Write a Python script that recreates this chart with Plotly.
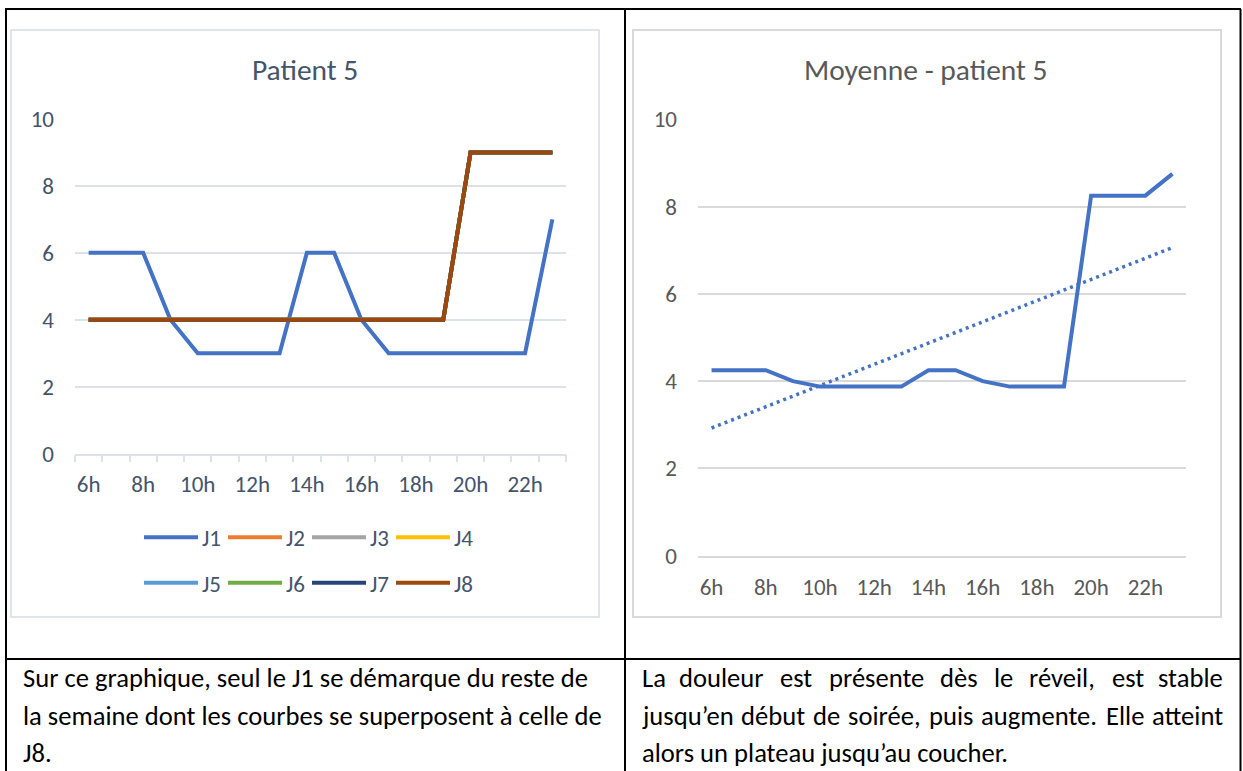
import numpy as np
import plotly.graph_objects as go

# ---------------- data ----------------
CATEGORIES = ["6h", "7h", "8h", "9h", "10h", "11h", "12h", "13h", "14h",
              "15h", "16h", "17h", "18h", "19h", "20h", "21h", "22h", "23h"]
SERIES = ["J1", "J2", "J3", "J4", "J5", "J6", "J7", "J8"]
J1 = [6, 6, 6, 4, 3, 3, 3, 3, 6, 6, 4, 3, 3, 3, 3, 3, 3, 7]
J2 = [4, 4, 4, 4, 4, 4, 4, 4, 4, 4, 4, 4, 4, 4, 9, 9, 9, 9]
J3 = [4, 4, 4, 4, 4, 4, 4, 4, 4, 4, 4, 4, 4, 4, 9, 9, 9, 9]
J4 = [4, 4, 4, 4, 4, 4, 4, 4, 4, 4, 4, 4, 4, 4, 9, 9, 9, 9]
J5 = [4, 4, 4, 4, 4, 4, 4, 4, 4, 4, 4, 4, 4, 4, 9, 9, 9, 9]
J6 = [4, 4, 4, 4, 4, 4, 4, 4, 4, 4, 4, 4, 4, 4, 9, 9, 9, 9]
J7 = [4, 4, 4, 4, 4, 4, 4, 4, 4, 4, 4, 4, 4, 4, 9, 9, 9, 9]
J8 = [4, 4, 4, 4, 4, 4, 4, 4, 4, 4, 4, 4, 4, 4, 9, 9, 9, 9]
MEAN = [4.25, 4.25, 4.25, 4.0, 3.875, 3.875, 3.875, 3.875, 4.25,
        4.25, 4.0, 3.875, 3.875, 3.875, 8.25, 8.25, 8.25, 8.75]
Y_TICKS_LEFT = [0, 2, 4, 6, 8, 10]
Y_TICKS_RIGHT = [0, 2, 4, 6, 8, 10]
TITLE_LEFT = "Patient 5"
TITLE_RIGHT = "Moyenne - patient 5"
TEXT_LEFT = ["Sur ce graphique, seul le J1 se démarque du reste de",
             "la semaine dont les courbes se superposent à celle de",
             "J8."]
TEXT_RIGHT = ["La douleur est présente dès le réveil, est stable",
              "jusqu’en début de soirée, puis augmente. Elle atteint",
              "alors un plateau jusqu’au coucher."]

# ---------------- style ----------------
COLORS = ["#4472C4", "#ED7D31", "#A5A5A5", "#FFC000",
          "#5B9BD5", "#70AD47", "#264478", "#9E480E"]
FONT = "Carlito, Calibri, Lato, sans-serif"
SLATE = "#44546A"
GREY_TXT = "#595959"
GRID_L = "#DDE2E8"
GRID_R = "#D9D9D9"
W, H = 1243, 771
TICK_SIZE = 23
LEGEND_SIZE = 23
BODY_SIZE = 26.6
TITLE_SIZE = 29.5


def fx(x):
    return x / W


def fy(y):
    return 1 - y / H


xi = list(range(len(CATEGORIES)))
day_values = [J1, J2, J3, J4, J5, J6, J7, J8]

fig = go.Figure()
for name, vals, col in zip(SERIES, day_values, COLORS):
    fig.add_trace(go.Scatter(x=xi, y=vals, name=name, mode="lines",
                             line=dict(color=col, width=4),
                             xaxis="x", yaxis="y", showlegend=False))

fig.add_trace(go.Scatter(x=xi, y=MEAN, name="Moyenne", mode="lines",
                         line=dict(color=COLORS[0], width=4),
                         xaxis="x2", yaxis="y2", showlegend=False))
# linear trendline (as Excel computes it) on the mean series
slope, intercept = np.polyfit(np.arange(1, len(MEAN) + 1), MEAN, 1)
trend = [slope * (i + 1) + intercept for i in xi]
fig.add_trace(go.Scatter(x=xi, y=trend, name="Linéaire (Moyenne)", mode="lines",
                         line=dict(color=COLORS[0], width=3.5, dash="3px,4px"),
                         xaxis="x2", yaxis="y2", showlegend=False))

tickvals = xi[::2]
ticktext = CATEGORIES[::2]
xr = [-0.5, len(CATEGORIES) - 0.5]

fig.update_layout(
    width=W, height=H,
    margin=dict(l=0, r=0, t=0, b=0, pad=0, autoexpand=False),
    paper_bgcolor="white", plot_bgcolor="rgba(0,0,0,0)",
    showlegend=False,
    font=dict(family=FONT),
    xaxis=dict(domain=[fx(75), fx(566)], range=xr, anchor="y",
               tickmode="array", tickvals=tickvals, ticktext=ticktext,
               showgrid=False, zeroline=False, showline=True,
               linecolor=GRID_L, linewidth=1.5, ticks="",
               ticklabelstandoff=9, automargin=False,
               minor=dict(tickmode="array",
                          tickvals=[i - 0.5 for i in range(len(CATEGORIES) + 1)],
                          ticks="outside", ticklen=7, tickwidth=1.5,
                          tickcolor=GRID_L, showgrid=False),
               tickfont=dict(family=FONT, size=TICK_SIZE, color=SLATE)),
    yaxis=dict(domain=[fy(453.5), fy(119)], range=[0, 10], anchor="x",
               tickmode="array", tickvals=Y_TICKS_LEFT,
               showgrid=True, gridcolor=GRID_L, gridwidth=1.5,
               zeroline=False, showline=False, ticks="",
               ticklabelstandoff=20, automargin=False,
               tickfont=dict(family=FONT, size=TICK_SIZE, color=SLATE)),
    xaxis2=dict(domain=[fx(698), fx(1186)], range=xr, anchor="y2",
                tickmode="array", tickvals=tickvals, ticktext=ticktext,
                showgrid=False, zeroline=False, showline=True,
                linecolor=GRID_R, linewidth=1.5, ticks="",
                ticklabelstandoff=10, automargin=False,
                tickfont=dict(family=FONT, size=TICK_SIZE, color=GREY_TXT)),
    yaxis2=dict(domain=[fy(555.7), fy(119.3)], range=[0, 10], anchor="x2",
                tickmode="array", tickvals=Y_TICKS_RIGHT,
                showgrid=True, gridcolor=GRID_R, gridwidth=1.5,
                zeroline=False, showline=False, ticks="",
                ticklabelstandoff=20, automargin=False,
                tickfont=dict(family=FONT, size=TICK_SIZE, color=GREY_TXT)),
)

shapes = []
# chart frames
shapes.append(dict(type="rect", xref="paper", yref="paper",
                   x0=fx(11), x1=fx(599), y0=fy(617), y1=fy(30),
                   line=dict(color="#D6DCE5", width=1.5), layer="below"))
shapes.append(dict(type="rect", xref="paper", yref="paper",
                   x0=fx(633), x1=fx(1221), y0=fy(617), y1=fy(30),
                   line=dict(color="#D9D9D9", width=2), layer="below"))
# table borders
black = dict(color="black", width=2)
for (x0, y0, x1, y1) in [(5, 9, 1241, 9), (6, 9, 6, 771), (625, 9, 625, 771),
                         (1240.5, 9, 1240.5, 771), (5, 659, 1241, 659)]:
    shapes.append(dict(type="line", xref="paper", yref="paper",
                       x0=fx(x0), x1=fx(x1), y0=fy(y0), y1=fy(y1), line=black))

annotations = []
# titles
annotations.append(dict(text=TITLE_LEFT, xref="paper", yref="paper",
                        x=fx(305), y=fy(70), xanchor="center", yanchor="middle",
                        showarrow=False,
                        font=dict(family=FONT, size=TITLE_SIZE, color=SLATE)))
annotations.append(dict(text=TITLE_RIGHT, xref="paper", yref="paper",
                        x=fx(926), y=fy(70), xanchor="center", yanchor="middle",
                        showarrow=False,
                        font=dict(family=FONT, size=TITLE_SIZE, color=GREY_TXT)))

# manual legend (2 rows x 4)
for k, (name, col) in enumerate(zip(SERIES, COLORS)):
    row, c = divmod(k, 4)
    yy = [537.3, 582.7][row]
    x0 = 144 + 84 * c
    shapes.append(dict(type="line", xref="paper", yref="paper",
                       x0=fx(x0), x1=fx(x0 + 54), y0=fy(yy), y1=fy(yy),
                       line=dict(color=col, width=4)))
    annotations.append(dict(text=name, xref="paper", yref="paper",
                            x=fx(x0 + 56), y=fy(yy + 1), xanchor="left",
                            yanchor="middle", showarrow=False,
                            font=dict(family=FONT, size=LEGEND_SIZE, color=SLATE)))

# ---- body text ----
CAL = {'a': 479, 'b': 525, 'c': 423, 'd': 525, 'e': 498, 'f': 305, 'g': 471,
       'h': 525, 'i': 229, 'j': 239, 'k': 455, 'l': 229, 'm': 799, 'n': 525,
       'o': 527, 'p': 525, 'q': 525, 'r': 349, 's': 391, 't': 335, 'u': 525,
       'v': 452, 'w': 715, 'x': 433, 'y': 453, 'z': 395, 'é': 498, 'è': 498,
       'à': 479, 'E': 488, 'L': 420, 'J': 319, 'S': 459, 'P': 517,
       ',': 250, '.': 252, '’': 250, ' ': 226}


def cal_width(word, size=26.6):
    return sum(CAL.get(ch, 500) for ch in word) / 1000 * size


LINE_Y = [678, 716, 753]


def plain_line(text, x, y):
    annotations.append(dict(text=text, xref="paper", yref="paper",
                            x=fx(x), y=fy(y), xanchor="left", yanchor="middle",
                            showarrow=False,
                            font=dict(family=FONT, size=BODY_SIZE, color="black")))


def justified_line(text, xa, xb, y):
    words = text.split(" ")
    widths = [cal_width(w) for w in words]
    gap = (xb - xa - sum(widths)) / (len(words) - 1)
    pos = xa
    for i, (w, wd) in enumerate(zip(words, widths)):
        if i == 0:
            xx, anc = pos, "left"
        elif i == len(words) - 1:
            xx, anc = xb, "right"
        else:
            xx, anc = pos + wd / 2, "center"
        annotations.append(dict(text=w, xref="paper", yref="paper",
                                x=fx(xx), y=fy(y), xanchor=anc, yanchor="middle",
                                showarrow=False,
                                font=dict(family=FONT, size=BODY_SIZE, color="black")))
        pos += wd + gap


for t, y in zip(TEXT_LEFT, LINE_Y):
    plain_line(t, 21, y)
justified_line(TEXT_RIGHT[0], 640, 1225, LINE_Y[0])
justified_line(TEXT_RIGHT[1], 640, 1225, LINE_Y[1])
plain_line(TEXT_RIGHT[2], 640, LINE_Y[2])

fig.update_layout(shapes=shapes, annotations=annotations)
fig.write_html("out.html",
               config={"displayModeBar": False},
               post_script="document.body.style.margin='0px';"
                           "document.body.style.overflow='hidden';")
